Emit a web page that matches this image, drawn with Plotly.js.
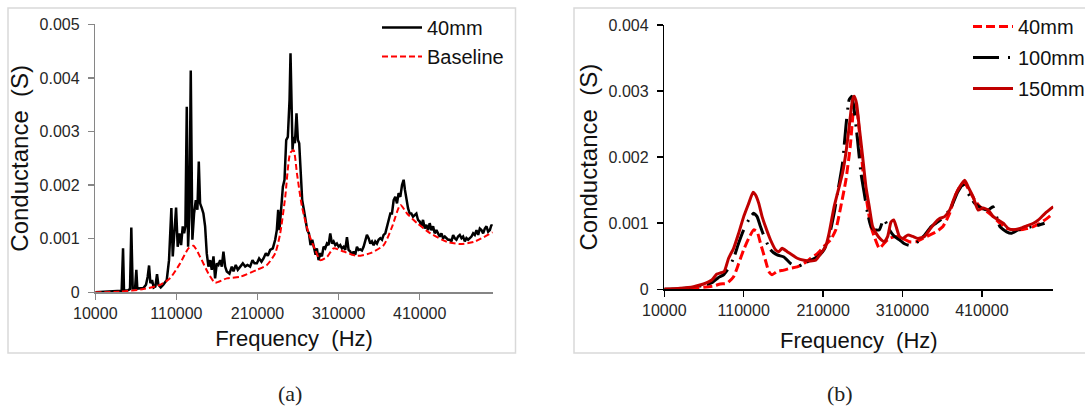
<!DOCTYPE html>
<html>
<head>
<meta charset="utf-8">
<script src="https://cdn.plot.ly/plotly-3.0.1.min.js"></script>
<style>
html,body{margin:0;padding:0;background:#fff;}
#chart{width:1085px;height:409px;}
</style>
</head>
<body>
<div id="chart"></div>
<script>
// ---------- Panel (a) ----------
const a40mmFreq = [10000,28100,40500,42500,44200,45400,50700,52800,54400,56100,59000,60600,61800,69300,72500,74600,76300,77900,80000,82000,84100,86100,87800,90700,93900,98100,100900,102200,103800,105500,107100,109600,111600,113700,115800,117800,119500,121100,122800,124400,126000,127700,129700,131800,133900,135900,137600,139200,141300,143300,145400,147400,149500,151600,153600,155700,157700,159800,161800,163900,166000,168000,170100,172100,175400,178300,180400,183200,185700,188600,191900,194800,197600,200900,203800,206300,209200,212000,214900,217400,220300,222700,225600,228900,231800,233800,235500,237100,239200,241300,243300,245400,247400,249500,250700,252000,253200,254400,256100,258100,259800,261400,263100,265100,267200,269200,271300,273400,275400,277500,279500,281600,283200,285300,287400,289400,291500,293500,295600,297600,299700,301800,303800,305900,307900,310000,312000,314100,316200,318200,320300,322300,324400,326400,328500,330500,332600,334700,336700,338800,340800,342900,344900,347000,349100,351100,353200,355200,357300,359300,361400,363500,365500,367600,369600,371700,373800,375800,377900,379900,382000,384000,386100,388200,390200,391800,393500,395600,397600,399700,401700,403800,405900,407900,410000,412000,414100,416200,418200,420300,422300,424400,426500,428500,430600,432600,434700,436800,438800,440900,442900,445000,447100,449100,451200,453200,455300,457300,459400,461500,463500,465600,467600,469700,471800,473800,475900,477900,480000,482100,484100,486200,488200,490300,492300,494400,496500,498500,499800];
const a40mmG = [0,0.00001,0.00003,0.00003,0.00082,0.00003,0.00004,0.00006,0.00121,0.00007,0.00007,0.00042,0.00007,0.00008,0.00014,0.00029,0.0005,0.00017,0.00023,0.00009,0.00011,0.00034,0.00014,0.00009,0.00014,0.00023,0.0006,0.00104,0.00157,0.00067,0.00098,0.00158,0.00085,0.0011,0.00088,0.00123,0.0011,0.00123,0.00346,0.00085,0.00141,0.00414,0.00098,0.00147,0.00172,0.00154,0.00244,0.00166,0.00157,0.00147,0.00123,0.00073,0.00048,0.0006,0.00042,0.00067,0.00026,0.00054,0.00051,0.0006,0.00048,0.00076,0.00048,0.00039,0.00035,0.00048,0.00039,0.00051,0.00042,0.00048,0.00054,0.00048,0.00051,0.00048,0.0006,0.00054,0.00054,0.00063,0.00057,0.00063,0.00073,0.00068,0.00079,0.00082,0.00098,0.00116,0.00154,0.00116,0.00166,0.00197,0.0021,0.00284,0.0029,0.00359,0.00446,0.00359,0.00266,0.0029,0.00278,0.00334,0.00284,0.00278,0.00222,0.00172,0.00154,0.00135,0.00116,0.0011,0.00088,0.00098,0.00085,0.0007,0.00082,0.0006,0.00073,0.00067,0.00085,0.00082,0.00091,0.00088,0.0011,0.00091,0.00095,0.00088,0.00091,0.00085,0.00088,0.00082,0.00085,0.00079,0.00103,0.00079,0.00076,0.0007,0.00076,0.0007,0.00085,0.00079,0.0008,0.00078,0.00085,0.00098,0.00107,0.00101,0.00091,0.00095,0.00088,0.00095,0.00091,0.00098,0.00101,0.00098,0.00107,0.0011,0.00123,0.00132,0.00147,0.00147,0.00172,0.00178,0.00166,0.00185,0.00178,0.002,0.0021,0.00191,0.00172,0.00157,0.00147,0.00147,0.00141,0.00144,0.00147,0.00135,0.00132,0.00123,0.00135,0.00119,0.00126,0.00116,0.00129,0.00116,0.00123,0.0011,0.00116,0.0011,0.00104,0.0011,0.00101,0.00104,0.00101,0.00098,0.00098,0.00095,0.00107,0.00101,0.00098,0.00104,0.00107,0.00101,0.00104,0.00095,0.00101,0.00098,0.00101,0.00104,0.0011,0.00107,0.00116,0.00107,0.00119,0.00116,0.0011,0.00119,0.00123,0.00113,0.00116,0.00126,0.00123];

const aBaseFreq = [10000,40600,69300,90000,102000,114600,124800,131000,139300,149500,157800,172200,188700,209300,221600,231900,238000,244200,250400,254500,258600,264800,273000,281200,287400,295700,303800,316200,332700,349200,365600,375900,386200,394400,406800,423200,443800,460300,476700,500000];
const aBaseG = [0,0.00001,0.00006,0.00014,0.00026,0.00054,0.00082,0.00087,0.00066,0.00035,0.00018,0.00026,0.00029,0.00042,0.00051,0.00073,0.0011,0.00178,0.0026,0.00265,0.00222,0.0016,0.0011,0.00079,0.0006,0.00066,0.00082,0.00076,0.00068,0.00073,0.00088,0.00122,0.00163,0.00147,0.00129,0.0011,0.00094,0.0009,0.00094,0.00112];

// ---------- Panel (b) ----------
const b40Freq = [10000,29800,46700,59400,72000,80500,88900,97300,103700,110000,116300,122600,126900,131100,137400,141600,145800,152200,160600,169100,177500,185900,194400,202800,211200,219700,226000,232300,238700,244200,248400,251400,254300,257700,261900,266100,270300,274500,280900,287200,293500,302000,310400,318800,327300,335700,344100,352600,361000,369500,375800,382100,388400,394800,401100,407500,415900,424300,432700,441200,449600,458100,466500,474900,483300,491800,500000];
const b40G = [0,0.000005,0.000015,0.00003,0.00005,0.00008,0.00009,0.00019,0.00039,0.0006,0.00077,0.0009,0.00087,0.0007,0.00044,0.00027,0.00022,0.00027,0.00029,0.00032,0.00034,0.00039,0.00047,0.00054,0.00065,0.00075,0.0009,0.00125,0.00165,0.00216,0.00271,0.00281,0.00256,0.00211,0.0016,0.00125,0.00095,0.0008,0.00062,0.0007,0.00077,0.0008,0.00077,0.00072,0.00072,0.00077,0.00082,0.00087,0.00095,0.00115,0.0014,0.00155,0.0016,0.00148,0.00135,0.00125,0.00118,0.0011,0.001,0.00092,0.0009,0.0009,0.00092,0.00095,0.001,0.00107,0.00115];

const b100Freq = [10000,29800,46700,59400,69900,78300,84700,91000,97300,103700,110000,116300,122600,126900,131100,137400,143700,152200,160600,169100,177500,185900,194400,202800,211200,217600,223900,228100,234500,238700,242900,246300,249200,253400,257700,261900,266100,270300,274500,280900,286400,293500,299800,306200,312500,320900,329400,337800,346200,354700,363100,371500,380000,386300,392700,401100,409500,418000,424000,432700,441200,447500,456000,464400,472800,481300,489000];
const b100G = [0,0.00001,0.00003,0.00006,0.0001,0.00018,0.00022,0.00032,0.00047,0.0007,0.0009,0.00105,0.00115,0.0011,0.00095,0.00075,0.0006,0.00052,0.00049,0.00039,0.00034,0.00039,0.00044,0.00049,0.0006,0.0008,0.00115,0.00145,0.00191,0.00246,0.00287,0.00292,0.00271,0.00226,0.00176,0.00145,0.00115,0.00095,0.0009,0.0009,0.00107,0.0009,0.0008,0.00075,0.00069,0.00066,0.00072,0.00082,0.00095,0.00102,0.0011,0.00125,0.00148,0.00158,0.00145,0.0013,0.00123,0.0012,0.00125,0.00095,0.00087,0.00085,0.0009,0.00092,0.00095,0.00097,0.001];

const b150Freq = [10000,29800,46700,59400,69900,76200,81300,85500,91000,97300,103700,110000,116300,121800,124800,129000,133200,137400,143700,150100,154300,158500,164800,171200,177500,185900,194400,200700,207000,213300,217600,223900,230200,234500,238700,242900,247100,249200,252200,255500,259800,264000,268200,272400,276600,283000,287200,291400,295600,299000,302000,306200,310400,316700,323000,329400,337800,344100,350500,356800,363100,369500,375800,382100,388400,392700,399000,405300,411600,418000,424300,430600,437000,443300,449600,458100,466500,474900,481300,489700,500000];
const b150G = [0,0.000015,0.00004,0.00008,0.00014,0.00023,0.00025,0.00027,0.00047,0.00062,0.00085,0.0011,0.0013,0.00147,0.00143,0.0013,0.0011,0.00095,0.00075,0.0006,0.00057,0.00062,0.00057,0.00052,0.00047,0.00044,0.00043,0.00044,0.00054,0.00065,0.00085,0.00125,0.00155,0.00176,0.00206,0.00246,0.00287,0.00292,0.00281,0.00246,0.00201,0.00155,0.00125,0.00095,0.00085,0.00075,0.00072,0.0008,0.00102,0.00105,0.00095,0.0008,0.00077,0.00082,0.0008,0.00077,0.0008,0.0009,0.001,0.00107,0.0011,0.0012,0.0014,0.00155,0.00165,0.00155,0.0014,0.0012,0.00123,0.0012,0.0011,0.00105,0.001,0.00092,0.0009,0.00092,0.00096,0.001,0.00105,0.00115,0.00125];

// ---------- Ticks & labels ----------
const xTickVals = [10000,110000,210000,310000,410000];
const xTickText = ['10000','110000','210000','310000','410000'];
const yTickValsA = [0,0.001,0.002,0.003,0.004,0.005];
const yTickTextA = ['0','0.001','0.002','0.003','0.004','0.005'];
const yTickValsB = [0,0.001,0.002,0.003,0.004];
const yTickTextB = ['0','0.001','0.002','0.003','0.004'];
const xTitle = 'Frequency  (Hz)';
const yTitle = 'Conductance  (S)';
const captions = ['(a)','(b)'];

const W = 1085, H = 409;
const px = v => v / W;
const py = v => 1 - v / H;

const traces = [
  {x:a40mmFreq, y:a40mmG, xaxis:'x', yaxis:'y', name:'40mm', legend:'legend', mode:'lines',
   line:{color:'#000000', width:2.5}},
  {x:aBaseFreq, y:aBaseG, xaxis:'x', yaxis:'y', name:'Baseline', legend:'legend', mode:'lines',
   line:{color:'#ff0000', width:2, dash:'6px,3px', shape:'spline', smoothing:0.6}},
  {x:b40Freq, y:b40G, xaxis:'x2', yaxis:'y2', name:'40mm', legend:'legend2', legendgroup:'g1', mode:'lines',
   line:{color:'#ff0000', width:3, dash:'9px,4px', shape:'spline', smoothing:0.5}},
  {x:b100Freq, y:b100G, xaxis:'x2', yaxis:'y2', name:'100mm', legend:'legend2', legendgroup:'g2', mode:'lines',
   line:{color:'#000000', width:3, dash:'26px,9px,2px,6px', shape:'spline', smoothing:0.5}},
  {x:b150Freq, y:b150G, xaxis:'x2', yaxis:'y2', name:'150mm', legend:'legend2', legendgroup:'g3', mode:'lines',
   line:{color:'#c00000', width:3, shape:'spline', smoothing:0.5}}
];

const tickFont = {family:'Liberation Sans, Arial, sans-serif', size:16, color:'#262626'};
const xTitleFont = {family:'Liberation Sans, Arial, sans-serif', size:22, color:'#111111'};
const yTitleFont = {family:'Liberation Sans, Arial, sans-serif', size:24, color:'#111111'};

function xAx(domain, anchor, lineColor, standoff){
  return {domain:domain, anchor:anchor, range:[10000,500000], tickvals:xTickVals, ticktext:xTickText,
    automargin:false,
    showgrid:false, zeroline:false, showline:true, linecolor:lineColor, linewidth:1.5,
    ticks:'outside', ticklen:6, tickcolor:lineColor, tickwidth:1.5, tickfont:tickFont,
    title:{text:xTitle, font:xTitleFont, standoff:standoff}, fixedrange:true};
}
function yAx(domain, anchor, range, tv, tt, lineColor){
  return {domain:domain, anchor:anchor, range:range, tickvals:tv, ticktext:tt,
    automargin:false,
    showgrid:false, zeroline:false, showline:true, linecolor:lineColor, linewidth:1.5,
    ticks:'outside', ticklen:6, tickcolor:lineColor, tickwidth:1.5, tickfont:tickFont,
    ticklabelstandoff:5,
    title:{text:yTitle, font:yTitleFont, standoff:4}, fixedrange:true};
}

const layout = {
  width:W, height:H, margin:{l:0,r:0,t:0,b:0,autoexpand:false}, paper_bgcolor:'#ffffff', plot_bgcolor:'#ffffff',
  showlegend:true,
  xaxis: xAx([px(95.3), px(492.7)], 'y', '#868686', 9),
  yaxis: yAx([py(292.3), py(24.3)], 'x', [0,0.005], yTickValsA, yTickTextA, '#868686'),
  xaxis2: xAx([px(664.3), px(1053.3)], 'y2', '#000000', 14),
  yaxis2: yAx([py(289.3), py(25)], 'x2', [0,0.004], yTickValsB, yTickTextB, '#000000'),
  legend:{x:px(377), y:py(8), xanchor:'left', yanchor:'top', bgcolor:'rgba(0,0,0,0)',
    font:{family:'Liberation Sans, Arial, sans-serif', size:20, color:'#111111'}, itemwidth:40, tracegroupgap:0},
  legend2:{x:px(968), y:py(7), xanchor:'left', yanchor:'top', bgcolor:'rgba(0,0,0,0)',
    font:{family:'Liberation Sans, Arial, sans-serif', size:20, color:'#111111'}, itemwidth:40,
    traceorder:'grouped', tracegroupgap:2},
  shapes:[
    {type:'rect', xref:'paper', yref:'paper', x0:px(8), x1:px(515.5), y0:py(353), y1:py(8),
     line:{color:'#d9d9d9', width:1.5}, fillcolor:'rgba(0,0,0,0)', layer:'below'},
    {type:'rect', xref:'paper', yref:'paper', x0:px(574), x1:px(1095), y0:py(353), y1:py(8),
     line:{color:'#d9d9d9', width:1.5}, fillcolor:'rgba(0,0,0,0)', layer:'below'}
  ],
  annotations:[
    {text:captions[0], xref:'paper', yref:'paper', x:px(290), y:py(393), xanchor:'center', yanchor:'middle',
     showarrow:false, font:{family:'Liberation Serif, DejaVu Serif, serif', size:22, color:'#222'}},
    {text:captions[1], xref:'paper', yref:'paper', x:px(840), y:py(393), xanchor:'center', yanchor:'middle',
     showarrow:false, font:{family:'Liberation Serif, DejaVu Serif, serif', size:22, color:'#222'}}
  ]
};

Plotly.newPlot('chart', traces, layout, {displayModeBar:false, staticPlot:true});
</script>
</body>
</html>
